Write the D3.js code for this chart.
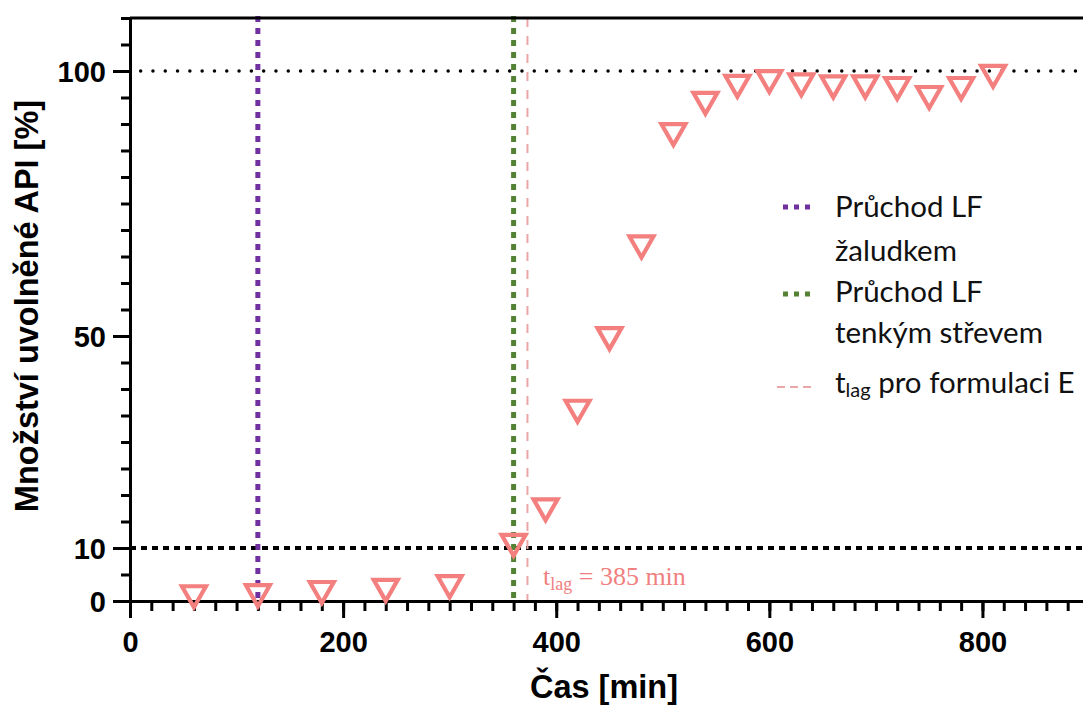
<!DOCTYPE html>
<html>
<head>
<meta charset="utf-8">
<script src="https://cdn.jsdelivr.net/npm/d3@7"></script>
<style>
body{margin:0;background:#fff;}
svg{display:block;}
</style>
</head>
<body>
<div id="chart"></div>
<script>
// sampling times [min] and released API [%]
var times = [60,120,180,240,300,360,390,420,450,480,510,540,570,600,630,660,690,720,750,780,810];
var released = [0.8,1.0,1.6,2.0,2.7,10.5,17.2,35.8,49.5,66.8,88.0,93.9,97.1,98.0,97.4,97.0,97.0,96.7,95.0,96.7,99.0];

// reference lines
var refLevels = [100, 10];
var stomachTime = 120;      // průchod žaludkem
var intestineTime = 360;    // průchod tenkým střevem
var lagTime = 373;          // t_lag marker as drawn

var xTicks = [0,200,400,600,800];
var yTicks = [0,10,50,100];

var legendItems = [
  {lines:["Průchod LF","žaludkem"], color:"#7030a0", dash:"5,6", width:5},
  {lines:["Průchod LF","tenkým střevem"], color:"#548235", dash:"5,6", width:5},
  {lines:["lag"], color:"#eba7a7", dash:"8,5", width:2}
];

function init(){
  var w = 1083, h = 707;
  var svg = d3.select("#chart").append("svg")
      .attr("width", w).attr("height", h);

  var x = d3.scaleLinear().domain([0, 900]).range([130, 1089]);
  var y = d3.scaleLinear().domain([0, 110]).range([601, 18]);

  var fontAx = "'Liberation Sans', Arial, sans-serif";

  // horizontal dotted reference lines
  svg.append("line")
      .attr("x1", x(10)).attr("x2", w)
      .attr("y1", y(refLevels[0])).attr("y2", y(refLevels[0]))
      .attr("stroke", "#000").attr("stroke-width", 3.5)
      .attr("stroke-linecap", "round")
      .attr("stroke-dasharray", "0,12.3");
  svg.append("line")
      .attr("x1", x(0)).attr("x2", w)
      .attr("y1", y(refLevels[1])).attr("y2", y(refLevels[1]))
      .attr("stroke", "#000").attr("stroke-width", 4)
      .attr("stroke-dasharray", "6,5");

  // vertical markers
  svg.append("line")
      .attr("x1", x(lagTime)).attr("x2", x(lagTime))
      .attr("y1", y(110)).attr("y2", y(0))
      .attr("stroke", "#eba7a7").attr("stroke-width", 2)
      .attr("stroke-dasharray", "9,9");

  [[stomachTime, "#7030a0"], [intestineTime, "#548235"]].forEach(function(m){
    svg.append("line")
        .attr("x1", x(m[0])).attr("x2", x(m[0]))
        .attr("y1", y(110) - 2).attr("y2", y(0))
        .attr("stroke", m[1]).attr("stroke-width", 5)
        .attr("stroke-dasharray", "6,6");
  });

  // top frame line
  svg.append("line")
      .attr("x1", x(0)).attr("x2", w)
      .attr("y1", y(110)).attr("y2", y(110))
      .attr("stroke", "#000").attr("stroke-width", 3);

  // axes, minor then major
  var xMinor = svg.append("g").attr("transform", "translate(0," + y(0) + ")")
      .call(d3.axisBottom(x).tickValues(d3.range(0, 901, 20)).tickSize(10).tickSizeOuter(0).tickFormat(""));
  var xMajor = svg.append("g").attr("transform", "translate(0," + y(0) + ")")
      .call(d3.axisBottom(x).tickValues(xTicks).tickSize(17).tickSizeOuter(0).tickPadding(13));
  var yMinor = svg.append("g").attr("transform", "translate(" + x(0) + ",0)")
      .call(d3.axisLeft(y).tickValues(d3.range(0, 111, 5)).tickSize(9).tickSizeOuter(0).tickFormat(""));
  var yMajor = svg.append("g").attr("transform", "translate(" + x(0) + ",0)")
      .call(d3.axisLeft(y).tickValues(yTicks).tickSize(17).tickSizeOuter(0).tickPadding(7));

  [xMinor, xMajor, yMinor, yMajor].forEach(function(g){
    g.selectAll("path.domain").attr("stroke", "#000").attr("stroke-width", 3);
    g.selectAll(".tick line").attr("stroke", "#000").attr("stroke-width", 3);
    g.selectAll("text")
        .attr("fill", "#000")
        .style("font-family", fontAx)
        .style("font-weight", "bold")
        .style("font-size", "29px");
  });
  yMajor.selectAll("text").attr("dy", "0.36em");

  // data markers (open inverted triangles)
  svg.append("g").selectAll("path")
      .data(times)
      .enter()
      .append("path")
      .attr("transform", (d,i)=>"translate(" + x(d) + "," + y(released[i]) + ")")
      .attr("d", "M-12,-10.5L12,-10.5L0,10.5Z")
      .attr("fill", "none")
      .attr("stroke", "#f47f7f")
      .attr("stroke-width", 4.2)
      .attr("stroke-linejoin", "miter");

  // t_lag annotation
  var tl = svg.append("text")
      .attr("x", 543).attr("y", 585)
      .attr("fill", "#f08080")
      .style("font-family", "'Liberation Serif', 'Times New Roman', serif")
      .style("font-size", "26px");
  tl.append("tspan").text("t");
  tl.append("tspan").attr("dy", 5).style("font-size", "18px").text("lag");
  tl.append("tspan").attr("dy", -5).text(" = 385 min");

  // axis titles
  svg.append("text")
      .attr("x", 604).attr("y", 698)
      .attr("text-anchor", "middle")
      .style("font-family", fontAx).style("font-weight", "bold").style("font-size", "32.5px")
      .text("Čas [min]");
  svg.append("text")
      .attr("transform", "translate(38,306) rotate(-90)")
      .attr("text-anchor", "middle")
      .style("font-family", fontAx).style("font-weight", "bold").style("font-size", "32.5px")
      .text("Množství uvolněné API [%]");

  // legend
  var legend = svg.append("g").attr("transform", "translate(783,0)");
  var rowsY = [[207, 217, 261], [294, 302, 343], [387, 393]];
  var fontLg = "Lato, 'Open Sans', sans-serif";
  legendItems.forEach((item, i)=>{
    legend.append("line")
        .attr("x1", i < 2 ? 0 : -6).attr("x2", 32)
        .attr("y1", rowsY[i][0]).attr("y2", rowsY[i][0])
        .attr("stroke", item.color)
        .attr("stroke-width", item.width)
        .attr("stroke-dasharray", item.dash);
    if (i < 2) {
      item.lines.forEach((t, j)=>{
        legend.append("text")
            .attr("x", 52).attr("y", rowsY[i][j + 1])
            .style("font-family", fontLg).style("font-size", "29.5px")
            .attr("fill", "#111")
            .text(t);
      });
    } else {
      var tt = legend.append("text")
          .attr("x", 52).attr("y", rowsY[i][1])
          .style("font-family", fontLg).style("font-size", "29.5px")
          .attr("fill", "#111");
      tt.append("tspan").text("t");
      tt.append("tspan").attr("dy", 4).style("font-size", "20px").text(item.lines[0]);
      tt.append("tspan").attr("dy", -4).text(" pro formulaci E");
    }
  });
}
init();
</script>
</body>
</html>
